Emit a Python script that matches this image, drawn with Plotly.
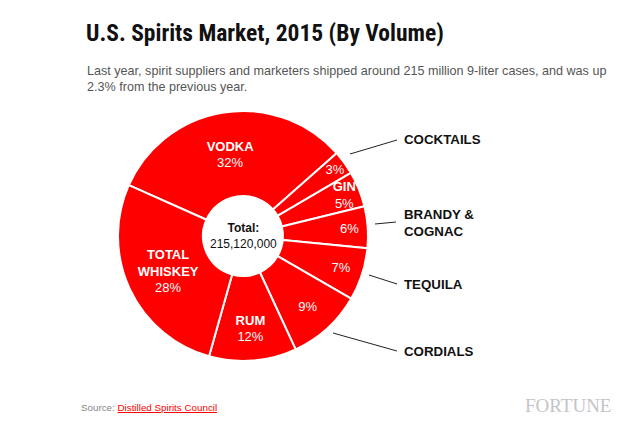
import plotly.graph_objects as go

# Data (millions of 9-liter cases)
categories = ["Vodka", "Cocktails", "Gin", "Brandy & Cognac", "Tequila", "Cordials", "Rum", "Total Whiskey"]
cases_millions = [68.4, 6.7, 9.9, 11.6, 14.6, 20.9, 24.3, 58.7]
pct_labels = ["32%", "3%", "5%", "6%", "7%", "9%", "12%", "28%"]
inside_names = ["VODKA", "", "GIN", "", "", "", "RUM", "TOTAL<br>WHISKEY"]
outside_names = ["COCKTAILS", "BRANDY &<br>COGNAC", "TEQUILA", "CORDIALS"]
total_label = "215,120,000"

RED = "#fe0000"

texts = []
for n, p in zip(inside_names, pct_labels):
    texts.append(f"<b>{n}</b><br>{p}" if n else p)

fig = go.Figure()
fig.add_trace(go.Pie(
    labels=categories,
    values=cases_millions,
    text=texts,
    textinfo="text",
    textposition="inside",
    insidetextorientation="horizontal",
    sort=False,
    direction="clockwise",
    rotation=-66,
    hole=0.32,
    marker=dict(colors=[RED] * len(categories), line=dict(color="white", width=2)),
    insidetextfont=dict(family="Liberation Sans, Arial, sans-serif", size=13, color="white"),
    domain=dict(x=[(243 - 125) / 644, (243 + 125) / 644], y=[(431 - 236 - 125) / 431, (431 - 236 + 125) / 431]),
    showlegend=False,
    hoverinfo="label+value+percent",
))

W, H = 644, 431
def px(x):
    return x / W
def py(y):
    return 1 - y / H

ann = []
# Title & subtitle
ann.append(dict(x=px(84), y=py(33), xref="paper", yref="paper", xanchor="left", yanchor="middle",
                text="<b>U.S. Spirits Market, 2015 (By Volume)</b>", showarrow=False,
                font=dict(family="Roboto Condensed, Liberation Sans Narrow, Arial Narrow, sans-serif", size=23.5, color="#111")))
ann.append(dict(x=px(85), y=py(79), xref="paper", yref="paper", xanchor="left", yanchor="middle", align="left",
                text="Last year, spirit suppliers and marketers shipped around 215 million 9-liter cases, and was up<br>2.3% from the previous year.",
                showarrow=False,
                font=dict(family="Liberation Sans, Arial, sans-serif", size=12.6, color="#555")))
# Center total
ann.append(dict(x=px(243), y=py(236), xref="paper", yref="paper", xanchor="center", yanchor="middle",
                text=f"<b>Total:</b><br>{total_label}", showarrow=False,
                font=dict(family="Liberation Sans, Arial, sans-serif", size=12, color="#111")))
# Outside labels
label_pos = [(402, 140), (402, 223), (402, 284), (402, 351)]
for name, (lx, ly) in zip(outside_names, label_pos):
    ann.append(dict(x=px(lx), y=py(ly), xref="paper", yref="paper", xanchor="left", yanchor="middle", align="left",
                    text=f"<b>{name}</b>", showarrow=False,
                    font=dict(family="Liberation Sans, Arial, sans-serif", size=13.3, color="#111")))
# Source and brand
ann.append(dict(x=px(79), y=py(407), xref="paper", yref="paper", xanchor="left", yanchor="middle",
                text="Source: <span style='color:#fe0000'><u>Distilled Spirits Council</u></span>", showarrow=False,
                font=dict(family="Liberation Sans, Arial, sans-serif", size=9.8, color="#888")))
ann.append(dict(x=px(613), y=py(405), xref="paper", yref="paper", xanchor="right", yanchor="middle",
                text="FORTUNE", showarrow=False,
                font=dict(family="Liberation Serif, Times New Roman, serif", size=19, color="#c4c4c8")))

leader_lines = [((350, 154), (397, 140)), ((375, 224), (396, 222)), ((369, 275), (397, 284)), ((333, 333), (397, 351))]
shapes = []
for (x0, y0), (x1, y1) in leader_lines:
    shapes.append(dict(type="line", xref="paper", yref="paper", x0=px(x0), y0=py(y0), x1=px(x1), y1=py(y1),
                       line=dict(color="#222", width=1)))

fig.update_layout(
    width=W, height=H,
    margin=dict(l=0, r=0, t=0, b=0),
    paper_bgcolor="white", plot_bgcolor="white",
    annotations=ann, shapes=shapes,
    uniformtext=dict(minsize=13, mode="show"),
)

fig.write_html("out.html")
